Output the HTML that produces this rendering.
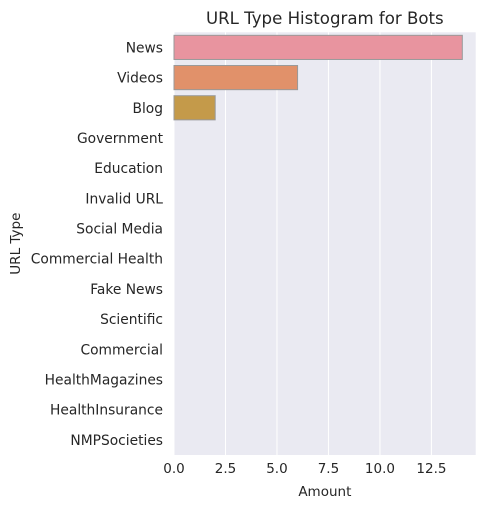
<!DOCTYPE html>
<html><head><meta charset="utf-8"><style>
body{margin:0;background:#fff;}
svg{display:block;font-family:"DejaVu Sans","Liberation Sans",sans-serif;}
</style></head><body>
<svg id="c" width="489" height="508"></svg>
<script>
const categories=["News","Videos","Blog","Government","Education","Invalid URL","Social Media","Commercial Health","Fake News","Scientific","Commercial","HealthMagazines","HealthInsurance","NMPSocieties"];
const values=[14,6,2,0,0,0,0,0,0,0,0,0,0,0];
const xTicks=[0,2.5,5,7.5,10,12.5];
const xTickLabels=["0.0","2.5","5.0","7.5","10.0","12.5"];
const colors=["#e8949f","#e1916a","#c49a4a","#a8a548","#7fb04e","#55b47a","#52b19c","#54aeb4","#58aac9","#6da3dc","#9a98e3","#c18ce0","#df86cc","#e88cb2"];
const svg=document.getElementById('c');
const NS="http://www.w3.org/2000/svg";
const L=174,R=475.7,T=32.3,B=455;
const xMax=14.65;
const x=v=>L+v/xMax*(R-L);
const band=(B-T)/categories.length;
const y=i=>T+i*band;
function mk(t,a,p){const e=document.createElementNS(NS,t);for(const k in a)e.setAttribute(k,a[k]);(p||svg).appendChild(e);return e;}
const bg=mk('rect',{x:L,y:T,width:R-L,height:B-T,fill:'#eaeaf2'});


xTicks.forEach((t,i)=>{
  const g=mk('line',{x1:x(t),x2:x(t),y1:T,y2:B,stroke:'#fff','stroke-width':1});
  
  
  const tx=mk('text',{x:x(t),y:B+18,'text-anchor':'middle','font-size':13.5,fill:'#262626'});
  tx.textContent=xTickLabels[i];
  
  
});
categories.forEach((c,i)=>{
  const cy=y(i)+band/2;
  const r=mk('rect',{x:L,y:y(i)+band*0.1,width:Math.max(0,x(values[i])-L),height:band*0.8,fill:colors[i],stroke:'#999','stroke-width':1});
  
  
  const t=mk('text',{x:163,y:cy+5,'text-anchor':'end','font-size':13.8,fill:'#262626'});
  t.textContent=c;
  
  
});
const tt=mk('text',{x:(L+R)/2,y:24,'text-anchor':'middle','font-size':16.6,fill:'#262626'});
tt.textContent="URL Type Histogram for Bots";


const xl=mk('text',{x:(L+R)/2,y:496,'text-anchor':'middle','font-size':13.5,fill:'#262626'});
xl.textContent="Amount";


const yl=mk('text',{x:0,y:0,'text-anchor':'middle','font-size':13.5,fill:'#262626',transform:'translate(20,'+((T+B)/2)+') rotate(-90)'});
yl.textContent="URL Type";


</script>
</body></html>
